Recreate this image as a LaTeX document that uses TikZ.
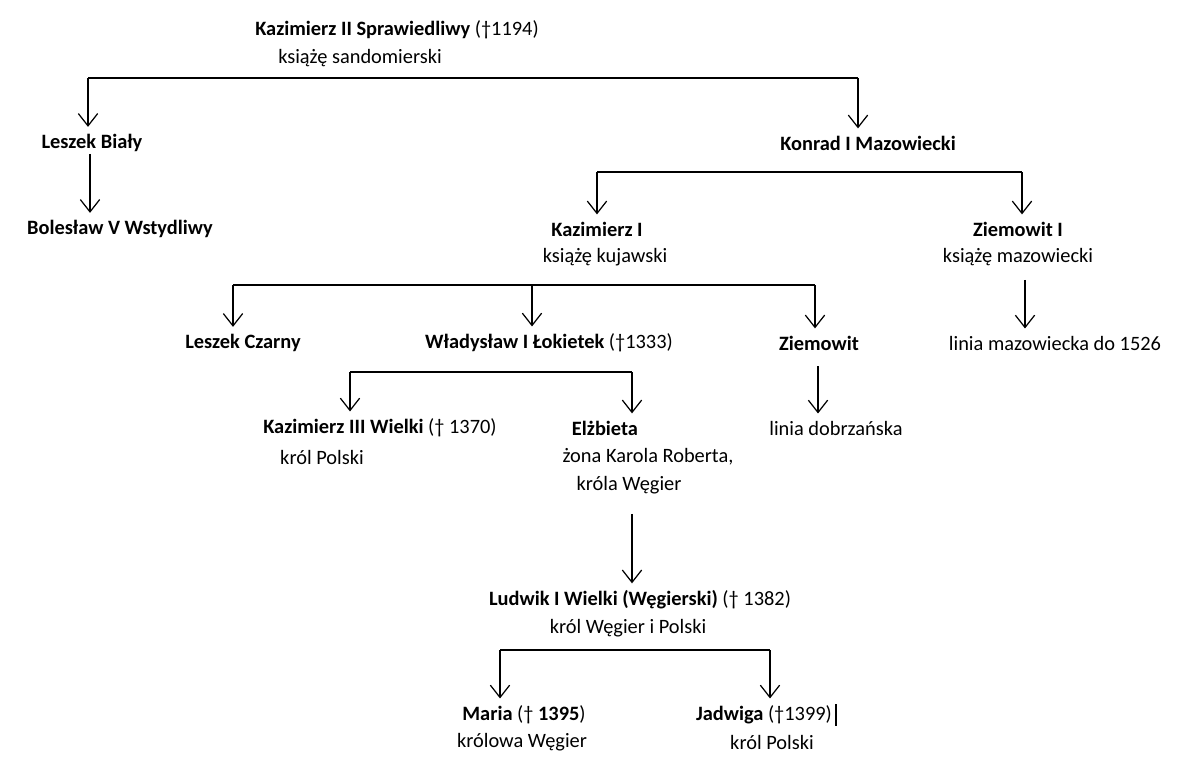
\documentclass[tikz,border=0pt]{standalone}
\usepackage{fontspec}
\setmainfont{Carlito}
\usetikzlibrary{arrows.meta}
\begin{document}
\begin{tikzpicture}[x=0.02cm,y=-0.02cm,
	person/.style={inner sep=1pt, font=\fontsize{11.6}{14}\selectfont},
	line/.style={line width=0.7pt},
	arr/.style={line, -{Straight Barb[length=7pt,width=11pt]}, shorten >=3pt}]
	\useasboundingbox (0,0) rectangle (1200,767);
	% names
	\node[person] (k2) at (397,30) {\textbf{Kazimierz II Sprawiedliwy} (†1194)};
	\node[person] (k2t) at (360,58) {książę sandomierski};
	\node[person] (lb) at (92,143) {\textbf{Leszek Biały}};
	\node[person] (bw) at (120,229) {\textbf{Bolesław V Wstydliwy}};
	\node[person] (km) at (868,143) {\textbf{Konrad I Mazowiecki}};
	\node[person] (k1) at (597,229) {\textbf{Kazimierz I}};
	\node[person] (k1t) at (605,257) {książę kujawski};
	\node[person] (z1) at (1018,229) {\textbf{Ziemowit I}};
	\node[person] (z1t) at (1018,257) {książę mazowiecki};
	\node[person] (lm) at (1055,343) {linia mazowiecka do 1526};
	\node[person] (lc) at (243,343) {\textbf{Leszek Czarny}};
	\node[person] (wl) at (549,343) {\textbf{Władysław I Łokietek} (†1333)};
	\node[person] (zw) at (819,343) {\textbf{Ziemowit}};
	\node[person] (ld) at (836,428) {linia dobrzańska};
	\node[person] (k3) at (380,428) {\textbf{Kazimierz III Wielki} († 1370)};
	\node[person] (k3t) at (322,457) {król Polski};
	\node[person] (el) at (605,428) {\textbf{Elżbieta}};
	\node[person] (elt) at (648,457) {żona Karola Roberta,};
	\node[person] (elu) at (629,485) {króla Węgier};
	\node[person] (lw) at (640,600) {\textbf{Ludwik I Wielki (Węgierski)} († 1382)};
	\node[person] (lwt) at (628,628) {król Węgier i Polski};
	\node[person] (ma) at (524,715) {\textbf{Maria} († \textbf{1395})};
	\node[person] (mat) at (522,742) {królowa Węgier};
	\node[person] (jd) at (764,715) {\textbf{Jadwiga} (†1399)};
	\node[person] (jdt) at (772,742) {król Polski};
	\draw[line] (jd.east) ++(2,-11) -- ++(0,22);

	% branches
	\coordinate (b1l) at (88,78);
	\coordinate (b1r) at (858,78);
	\draw[line] (b1l) -- (b1r);
	\draw[arr] (b1l) -- (b1l |- lb.north);
	\draw[arr] (b1r) -- (b1r |- km.north);
	\draw[arr] (lb.south -| 90,0) -- (bw.north -| 90,0);

	\coordinate (b2l) at (597,172);
	\coordinate (b2r) at (1022,172);
	\draw[line] (b2l) -- (b2r);
	\draw[arr] (b2l) -- (b2l |- k1.north);
	\draw[arr] (b2r) -- (b2r |- z1.north);
	\draw[arr] (z1t.south -| 1025,0) ++(0,12) -- (lm.north -| 1025,0);

	\coordinate (b3l) at (233,285);
	\coordinate (b3m) at (532,285);
	\coordinate (b3r) at (815,285);
	\draw[line] (b3l) -- (b3r);
	\draw[arr] (b3l) -- (b3l |- lc.north);
	\draw[arr] (b3m) -- (b3m |- wl.north);
	\draw[arr] (b3r) -- (b3r |- zw.north);
	\draw[arr] (zw.south -| 818,0) ++(0,14) -- (ld.north -| 818,0);

	\coordinate (b4l) at (350,372);
	\coordinate (b4r) at (632,372);
	\draw[line] (b4l) -- (b4r);
	\draw[arr] (b4l) -- (b4l |- k3.north);
	\draw[arr] (b4r) -- (b4r |- el.north);
	\draw[arr] (elu.south -| 632,0) ++(0,18) -- (lw.north -| 632,0);

	\coordinate (b5l) at (500,650);
	\coordinate (b5r) at (770,650);
	\draw[line] (b5l) -- (b5r);
	\draw[arr] (b5l) -- (b5l |- ma.north);
	\draw[arr] (b5r) -- (b5r |- jd.north);
\end{tikzpicture}
\end{document}
